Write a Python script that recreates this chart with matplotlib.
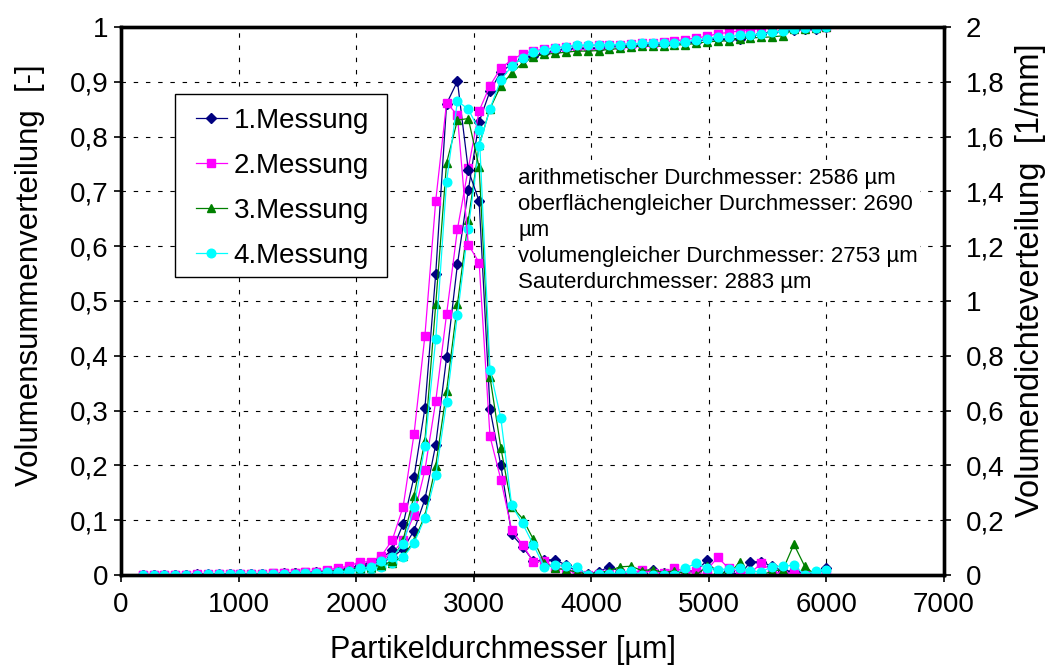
import numpy as np
import matplotlib
matplotlib.use("Agg")
import matplotlib.pyplot as plt
from matplotlib.ticker import MultipleLocator, FuncFormatter
from matplotlib.patches import Rectangle

plt.rcParams['font.family'] = ['Liberation Sans', 'DejaVu Sans']

# class midpoints of the sieve analysis, 6000/65 µm wide classes (k = 2..65)
class_width = 6000 / 65
d_um = np.arange(2, 66) * class_width

labels = ["1.Messung", "2.Messung", "3.Messung", "4.Messung"]

# cumulative volume distribution Q3 [-]
Q1 = [0, 0, 0, 0, 0, 0, 0, 0, 0.001, 0.001, 0.001, 0.002, 0.002, 0.002, 0.003, 0.003, 0.004, 0.005,
      0.007, 0.010, 0.014, 0.018, 0.023, 0.032, 0.048, 0.081, 0.138, 0.238,
      0.397, 0.567, 0.702, 0.827, 0.883, 0.918, 0.932, 0.942, 0.947, 0.952,
      0.957, 0.960, 0.961, 0.961, 0.962, 0.965, 0.966, 0.966, 0.967, 0.969,
      0.969, 0.970, 0.972, 0.973, 0.978, 0.978, 0.979, 0.979, 0.984, 0.988,
      0.991, 0.993, 0.995, 0.996, 0.997, 1.000]
Q2 = [0, 0, 0, 0, 0, 0, 0, 0.001, 0.001, 0.001, 0.002, 0.002, 0.003, 0.003, 0.004, 0.005, 0.006, 0.008,
      0.010, 0.013, 0.017, 0.022, 0.028, 0.040, 0.063, 0.110, 0.191, 0.317,
      0.476, 0.631, 0.742, 0.847, 0.893, 0.925, 0.940, 0.951, 0.956, 0.960,
      0.962, 0.964, 0.965, 0.966, 0.967, 0.967, 0.968, 0.969, 0.970, 0.971,
      0.972, 0.975, 0.977, 0.980, 0.983, 0.988, 0.990, 0.993, 0.995, 0.997,
      0.999, 1.000, 1.000, 1.000, 1.000, 1.000]
Q3 = [0, 0, 0, 0, 0, 0, 0, 0, 0, 0.001, 0.001, 0.001, 0.002, 0.002, 0.002, 0.003, 0.003, 0.004,
      0.006, 0.008, 0.010, 0.013, 0.017, 0.022, 0.035, 0.062, 0.108, 0.199,
      0.336, 0.494, 0.647, 0.784, 0.851, 0.893, 0.916, 0.934, 0.946, 0.950,
      0.952, 0.954, 0.956, 0.956, 0.957, 0.959, 0.961, 0.964, 0.965, 0.965,
      0.965, 0.967, 0.968, 0.970, 0.973, 0.974, 0.975, 0.979, 0.980, 0.981,
      0.982, 0.984, 0.996, 0.997, 0.999, 1.000]
Q4 = [0, 0, 0, 0, 0, 0, 0, 0, 0, 0, 0.001, 0.001, 0.001, 0.001, 0.002, 0.002, 0.002, 0.003,
      0.004, 0.006, 0.008, 0.011, 0.015, 0.021, 0.032, 0.058, 0.104, 0.182,
      0.315, 0.475, 0.632, 0.782, 0.851, 0.904, 0.928, 0.944, 0.954, 0.958,
      0.962, 0.964, 0.967, 0.967, 0.967, 0.968, 0.968, 0.969, 0.970, 0.971,
      0.971, 0.971, 0.973, 0.976, 0.979, 0.982, 0.982, 0.985, 0.986, 0.987,
      0.990, 0.993, 0.997, 0.998, 0.999, 1.000]

# volume density distribution q3 [1/mm]
q1 = [0, 0, 0, 0, 0, 0.002, 0.002, 0.002, 0.002, 0.002, 0.004, 0.004, 0.004, 0.006, 0.006, 0.008, 0.010, 0.012,
      0.016, 0.024, 0.036, 0.044, 0.060, 0.092, 0.186, 0.358, 0.608, 1.100,
      1.720, 1.802, 1.478, 1.364, 0.606, 0.400, 0.148, 0.104, 0.050, 0.054,
      0.056, 0.036, 0.014, 0.002, 0.012, 0.030, 0.012, 0.000, 0.008, 0.020,
      0.008, 0.012, 0.014, 0.014, 0.054, 0.000, 0.014, 0.000, 0.048, 0.048,
      0.032, 0.014, 0.014, 0.008, 0.000, 0.026]
q2 = [0, 0, 0, 0, 0, 0.002, 0.002, 0.002, 0.002, 0.004, 0.004, 0.004, 0.006, 0.006, 0.008, 0.010, 0.012, 0.018,
      0.026, 0.032, 0.048, 0.048, 0.070, 0.128, 0.250, 0.514, 0.872, 1.366,
      1.724, 1.678, 1.206, 1.140, 0.506, 0.348, 0.164, 0.110, 0.048, 0.052,
      0.024, 0.020, 0.006, 0.000, 0.002, 0.002, 0.008, 0.004, 0.020, 0.008,
      0.008, 0.026, 0.012, 0.016, 0.020, 0.064, 0.024, 0.012, 0.008, 0.042,
      0.016, 0.000, 0.012, 0.000, 0.000, 0.002]
q3 = [0, 0, 0, 0, 0, 0, 0.002, 0.002, 0.002, 0.002, 0.002, 0.004, 0.004, 0.004, 0.006, 0.006, 0.008, 0.012,
      0.016, 0.020, 0.024, 0.028, 0.036, 0.050, 0.128, 0.290, 0.488, 0.988,
      1.504, 1.660, 1.666, 1.488, 0.722, 0.464, 0.250, 0.206, 0.130, 0.044,
      0.024, 0.020, 0.010, 0.004, 0.008, 0.016, 0.030, 0.032, 0.016, 0.020,
      0.008, 0.016, 0.004, 0.000, 0.032, 0.020, 0.000, 0.048, 0.000, 0.000,
      0.014, 0.020, 0.112, 0.032, 0.000, 0.000]
q4 = [0, 0, 0, 0, 0, 0, 0.002, 0.002, 0.002, 0.002, 0.002, 0.002, 0.004, 0.004, 0.004, 0.006, 0.008, 0.010,
      0.012, 0.014, 0.024, 0.028, 0.052, 0.064, 0.112, 0.248, 0.470, 0.860,
      1.436, 1.730, 1.700, 1.624, 0.750, 0.572, 0.254, 0.188, 0.110, 0.030,
      0.036, 0.032, 0.030, 0.000, 0.004, 0.004, 0.008, 0.014, 0.000, 0.000,
      0.000, 0.000, 0.026, 0.042, 0.026, 0.020, 0.022, 0.026, 0.014, 0.012,
      0.030, 0.032, 0.036, 0.000, 0.014, 0.020]

diameters_text = ("arithmetischer Durchmesser: 2586 µm\n"
                  "oberflächengleicher Durchmesser: 2690\n"
                  "µm\n"
                  "volumengleicher Durchmesser: 2753 µm\n"
                  "Sauterdurchmesser: 2883 µm")

styles = [
    dict(color="#000080", marker="D", ms=4.8),
    dict(color="#FF00FF", marker="s", ms=5.8),
    dict(color="#008000", marker="^", ms=6.2),
    dict(color="#00FFFF", marker="o", ms=6.2),
]

W, H = 1054, 666
fig = plt.figure(figsize=(W / 100, H / 100), dpi=100)
ax = fig.add_axes([121 / W, 91 / H, 823 / W, 548 / H])
ax2 = ax.twinx()

handles = []
for Q, st, lab in zip([Q1, Q2, Q3, Q4], styles, labels):
    h, = ax.plot(d_um, Q, color=st["color"], marker=st["marker"], ms=st["ms"],
                 mec=st["color"], mfc=st["color"], lw=0.9, label=lab)
    handles.append(h)
for q, st in zip([q1, q2, q3, q4], styles):
    ax2.plot(d_um, q, color=st["color"], marker=st["marker"], ms=st["ms"],
             mec=st["color"], mfc=st["color"], lw=0.9)

ax.set_xlim(0, 7000)
ax.set_ylim(0, 1)
ax2.set_ylim(0, 2)
ax.xaxis.set_major_locator(MultipleLocator(1000))
ax.yaxis.set_major_locator(MultipleLocator(0.1))
ax2.yaxis.set_major_locator(MultipleLocator(0.2))

def comma(v, pos):
    s = f"{v:.1f}".rstrip("0").rstrip(".")
    return s.replace(".", ",")

ax.yaxis.set_major_formatter(FuncFormatter(comma))
ax2.yaxis.set_major_formatter(FuncFormatter(comma))

ax.grid(True, which="major", color="black", linestyle=(0, (4, 7)), linewidth=0.8)

for a in (ax, ax2):
    for sp in a.spines.values():
        sp.set_linewidth(2.4)
        sp.set_color("black")
ax.tick_params(axis="x", direction="out", length=5, width=1.2, labelsize=20, pad=7)
ax.tick_params(axis="y", direction="out", length=5, width=1.2, labelsize=20, pad=4)
ax2.tick_params(axis="y", direction="out", length=5, width=1.2, labelsize=20, pad=10.5)

# axis titles
fig.text(503 / W, 1 - 650 / H, "Partikeldurchmesser [µm]", fontsize=22,
         ha="center", va="center")
fig.text(30 / W, 1 - 275 / H, "Volumensummenverteilung  [-]", fontsize=22.5,
         rotation=90, ha="center", va="center")
fig.text(1030 / W, 1 - 280 / H, "Volumendichteverteilung  [1/mm]", fontsize=23.5,
         rotation=90, ha="center", va="center")

# legend box and entries
def ax_frac(px, py):
    return (px - 121) / 823, (575 - py) / 548

x0, y0 = ax_frac(175, 277)
x1, y1 = ax_frac(387, 94)
ax2.add_patch(Rectangle((x0, y0), x1 - x0, y1 - y0, transform=ax2.transAxes,
                        facecolor="white", edgecolor="black", lw=1.0, zorder=4))
lx, ly = ax_frac(196, 108)
leg = ax2.legend(handles=handles, loc="upper left", bbox_to_anchor=(lx, ly),
                 fontsize=20, frameon=False,
                 handlelength=1.1, handletextpad=0.25, labelspacing=0.68,
                 borderpad=0, borderaxespad=0)
leg.set_zorder(5)

tx, ty = ax_frac(518, 168)
ax2.text(tx, ty, diameters_text, transform=ax2.transAxes, fontsize=16,
         va="top", ha="left", linespacing=1.32, zorder=4,
         bbox=dict(facecolor="white", edgecolor="none", pad=2))

fig.savefig("out.png", dpi=100)
